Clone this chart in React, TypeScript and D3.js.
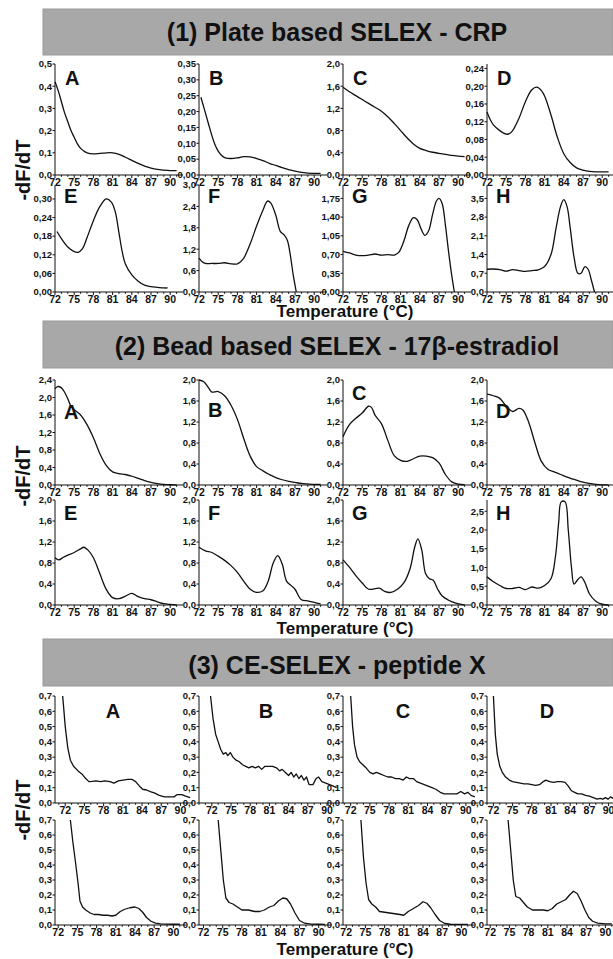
import * as d3 from "d3";

const FONT = "'Liberation Sans', Arial, sans-serif";

const letters = ["A", "B", "C", "D", "E", "F", "G", "H"];
const titles = [
  "(1) Plate based SELEX - CRP",
  "(2) Bead based SELEX - 17β-estradiol",
  "(3) CE-SELEX - peptide X",
];
const yTitle = "-dF/dT";
const xTitle = "Temperature (°C)";
const xTickValues = [72, 75, 78, 81, 84, 87, 90];

// (1) plate based SELEX - CRP : [temperature, -dF/dT]
const crpA = [[72,0.42],[72.5,0.38],[73,0.33],[73.5,0.28],[74,0.24],[74.5,0.2],[75,0.17],[75.5,0.14],[76,0.12],[76.5,0.108],[77,0.1],[78,0.095],[79,0.097],[80,0.1],[81,0.1],[82,0.093],[83,0.08],[84,0.066],[85,0.052],[86,0.04],[87,0.031],[88,0.025],[89,0.022],[90,0.02],[91,0.02]];
const crpB = [[72.3,0.245],[72.8,0.21],[73.5,0.16],[74,0.125],[74.5,0.095],[75,0.075],[75.5,0.062],[76,0.055],[77,0.052],[78,0.054],[79,0.058],[80,0.057],[81,0.052],[82,0.045],[83,0.037],[84,0.03],[85,0.023],[86,0.017],[87,0.012],[88,0.008],[89,0.006],[90,0.005],[91,0.005]];
const crpC = [[72,1.58],[73,1.5],[74,1.43],[75,1.36],[76,1.29],[77,1.22],[78,1.15],[79,1.05],[80,0.93],[81,0.8],[82,0.67],[83,0.56],[84,0.48],[85,0.44],[86,0.41],[87,0.39],[88,0.37],[89,0.355],[90,0.34],[91,0.33]];
const crpD = [[72,0.142],[72.5,0.125],[73,0.113],[74,0.1],[75,0.092],[75.5,0.093],[76,0.1],[77,0.128],[78,0.165],[79,0.192],[79.8,0.198],[80.5,0.19],[81,0.178],[82,0.135],[83,0.085],[84,0.048],[85,0.028],[86,0.016],[87,0.011],[88,0.008],[89,0.007],[90,0.007],[91,0.007]];
const crpE = [[72.3,0.195],[73,0.172],[74,0.145],[75,0.13],[75.6,0.128],[76.3,0.14],[77,0.175],[78,0.23],[79,0.275],[80,0.3],[80.8,0.29],[81.4,0.26],[82,0.19],[82.5,0.13],[83,0.09],[84,0.055],[85,0.035],[86,0.022],[87,0.017],[88,0.015],[89,0.013],[89.6,0.013]];
const crpF = [[72,0.95],[72.5,0.85],[73,0.8],[74,0.8],[75,0.8],[76,0.82],[77,0.79],[78,0.79],[78.5,0.85],[79,0.95],[80,1.35],[81,1.85],[82,2.3],[82.7,2.55],[83.2,2.5],[84,2.15],[84.7,1.7],[85.3,1.6],[85.8,1.45],[86.3,1.0],[86.7,0.5],[87.2,0.0]];
const crpG = [[72,0.76],[73,0.73],[74,0.69],[75,0.68],[76,0.69],[77,0.71],[78,0.69],[79,0.7],[80,0.69],[80.7,0.74],[81.5,0.95],[82.3,1.25],[83,1.39],[83.6,1.35],[84.2,1.18],[84.8,1.06],[85.4,1.15],[86,1.45],[86.6,1.7],[87,1.75],[87.5,1.65],[88,1.25],[88.5,0.75],[89,0.3],[89.4,0.0]];
const crpH = [[72,0.85],[73,0.86],[74,0.84],[75,0.78],[76,0.84],[77,0.8],[78,0.77],[79,0.8],[80,0.83],[81,0.95],[82,1.4],[82.8,2.4],[83.5,3.2],[84,3.45],[84.5,3.2],[85,2.4],[85.6,1.3],[86.2,0.7],[86.7,0.7],[87.3,0.95],[87.8,0.85],[88.3,0.45],[88.8,0.0]];

// (2) bead based SELEX - 17β-estradiol
const beadA = [[72,2.2],[72.4,2.25],[73,2.22],[73.5,2.12],[74,1.97],[74.5,1.8],[75,1.72],[76,1.6],[77,1.38],[78,1.08],[79,0.72],[80,0.45],[81,0.3],[82,0.26],[83,0.24],[84,0.2],[85,0.15],[86,0.1],[87,0.06],[88,0.03],[89,0.012],[90,0.006],[91,0.005]];
const beadB = [[72,2.0],[72.7,1.97],[73.5,1.85],[74,1.77],[75,1.78],[76,1.7],[77,1.52],[78,1.25],[79,0.88],[80,0.55],[81,0.35],[82,0.27],[83,0.2],[84,0.14],[85,0.1],[86,0.07],[87,0.05],[88,0.03],[89,0.02],[90,0.012],[91,0.01]];
const beadC = [[72,0.92],[73,1.15],[74,1.27],[75,1.37],[76,1.5],[76.5,1.47],[77,1.33],[78,1.17],[79,0.85],[80,0.56],[81,0.47],[82,0.45],[83,0.5],[84,0.55],[85,0.55],[86,0.52],[87,0.42],[88,0.2],[89,0.06],[90,0.015],[91,0.005]];
const beadD = [[72,1.73],[73,1.7],[74,1.65],[75,1.5],[76,1.4],[77,1.46],[77.6,1.43],[78.5,1.2],[79.5,0.8],[80.5,0.45],[81.5,0.3],[82.5,0.25],[83.5,0.2],[84.5,0.15],[85.5,0.11],[86.5,0.07],[87.5,0.04],[88.5,0.02],[89.5,0.008],[91,0.004]];
const beadE = [[72,0.9],[72.6,0.86],[73.3,0.91],[74,0.95],[75,1.0],[76,1.07],[76.5,1.1],[77.2,1.04],[78,0.9],[79,0.6],[80,0.3],[81,0.14],[82,0.12],[83,0.17],[84,0.22],[85,0.16],[86,0.12],[87,0.1],[88,0.06],[89,0.025],[90,0.01],[91,0.0]];
const beadF = [[72,1.1],[73,1.03],[74,1.0],[75,0.93],[76,0.85],[77,0.75],[78,0.62],[79,0.45],[80,0.3],[81,0.24],[82,0.27],[82.8,0.45],[83.6,0.8],[84.3,0.94],[85,0.78],[85.7,0.45],[86.5,0.36],[87,0.3],[88,0.1],[89,0.08],[90,0.05],[91,0.02]];
const beadG = [[72,0.86],[73,0.72],[74,0.56],[75,0.42],[76,0.3],[77,0.31],[77.7,0.32],[78.5,0.26],[79.5,0.24],[80.5,0.3],[81.5,0.42],[82.5,0.7],[83.2,1.1],[83.7,1.26],[84.3,1.05],[84.9,0.6],[85.5,0.5],[86.1,0.47],[86.8,0.3],[87.5,0.17],[88.5,0.09],[89.5,0.04],[90.5,0.01],[91,0.0]];
const beadH = [[72,0.75],[73,0.62],[74,0.52],[75,0.44],[76,0.44],[77,0.47],[78,0.41],[79,0.48],[80,0.45],[81,0.52],[82,0.7],[82.7,1.3],[83.2,2.2],[83.6,2.75],[84.2,2.75],[84.7,2.0],[85.2,1.0],[85.6,0.56],[86.2,0.68],[86.7,0.75],[87.3,0.6],[88,0.3],[89,0.1],[90,0.02],[91,0.0]];

// (3) CE-SELEX - peptide X
const ceA = [[71.6,0.7],[72,0.5],[72.4,0.36],[72.8,0.28],[73.3,0.24],[74,0.21],[74.6,0.19],[75.2,0.16],[75.7,0.14],[76.2,0.142],[76.8,0.145],[77.5,0.14],[78.2,0.145],[79,0.14],[79.6,0.13],[80.3,0.145],[81,0.15],[81.8,0.155],[82.4,0.155],[83,0.14],[83.6,0.11],[84.1,0.09],[84.7,0.085],[85.3,0.075],[86,0.065],[86.7,0.05],[87.5,0.04],[88.3,0.04],[89,0.04],[89.5,0.055],[90.2,0.055],[90.8,0.045],[91.5,0.035]];
const ceB = [[71.8,0.7],[72.2,0.55],[72.6,0.45],[73,0.4],[73.4,0.35],[73.8,0.32],[74.2,0.33],[74.5,0.31],[74.9,0.33],[75.3,0.3],[75.8,0.28],[76.3,0.27],[76.8,0.25],[77.3,0.24],[77.8,0.23],[78.3,0.24],[78.8,0.23],[79.3,0.24],[79.8,0.22],[80.3,0.24],[80.9,0.24],[81.5,0.24],[82.1,0.23],[82.6,0.21],[83,0.22],[83.5,0.2],[84,0.18],[84.4,0.2],[84.8,0.17],[85.2,0.19],[85.6,0.16],[86,0.18],[86.4,0.15],[86.8,0.17],[87.2,0.12],[87.8,0.12],[88.3,0.16],[88.7,0.17],[89.2,0.14],[89.8,0.13],[90.4,0.12],[91,0.11],[91.5,0.1]];
const ceC = [[72,0.7],[72.3,0.5],[72.6,0.38],[73,0.3],[73.4,0.27],[73.9,0.25],[74.4,0.23],[75,0.2],[75.5,0.19],[76,0.2],[76.6,0.19],[77.2,0.18],[77.8,0.17],[78.4,0.17],[79,0.16],[79.6,0.16],[80.2,0.15],[80.7,0.17],[81.2,0.16],[81.8,0.16],[82.3,0.14],[82.9,0.13],[83.5,0.12],[84.1,0.11],[84.7,0.1],[85.3,0.09],[86,0.07],[86.6,0.06],[87.3,0.06],[88,0.06],[88.6,0.06],[89.2,0.075],[89.8,0.06],[90.3,0.07],[90.8,0.05],[91.4,0.04]];
const ceD = [[72,0.7],[72.3,0.45],[72.6,0.32],[73,0.24],[73.4,0.2],[73.9,0.17],[74.5,0.15],[75,0.14],[75.6,0.135],[76.2,0.13],[76.8,0.125],[77.4,0.125],[78,0.12],[78.6,0.115],[79.2,0.12],[79.8,0.14],[80.2,0.15],[80.8,0.14],[81.4,0.135],[82,0.14],[82.6,0.14],[83.2,0.135],[83.7,0.11],[84.2,0.08],[84.7,0.07],[85.2,0.06],[85.8,0.06],[86.4,0.05],[87,0.045],[87.6,0.035],[88.2,0.025],[88.7,0.03],[89.1,0.025],[89.5,0.035],[89.9,0.025],[90.3,0.04],[90.7,0.03],[91.2,0.04]];
const ceE = [[73.9,0.7],[74.3,0.55],[74.7,0.42],[75.1,0.28],[75.4,0.16],[75.8,0.12],[76.3,0.1],[77,0.08],[77.6,0.07],[78.3,0.07],[79,0.065],[79.7,0.065],[80.4,0.06],[81,0.065],[81.7,0.09],[82.4,0.105],[83.2,0.115],[84,0.12],[84.6,0.11],[85.2,0.085],[85.8,0.05],[86.5,0.025],[87.2,0.012],[88,0.008],[89,0.006],[90,0.005],[91,0.005]];
const ceF = [[74.3,0.7],[74.7,0.5],[75.1,0.3],[75.5,0.18],[76,0.15],[76.6,0.14],[77.3,0.12],[78,0.1],[79,0.1],[80,0.09],[80.8,0.09],[81.5,0.1],[82.3,0.12],[83,0.13],[83.7,0.16],[84.4,0.18],[85,0.175],[85.6,0.14],[86.3,0.08],[87,0.03],[87.8,0.012],[88.8,0.006],[90,0.005],[91,0.004]];
const ceG = [[74.3,0.7],[74.7,0.45],[75.1,0.28],[75.5,0.17],[76,0.14],[76.6,0.12],[77.2,0.09],[78,0.085],[78.8,0.08],[79.6,0.075],[80.4,0.07],[81,0.065],[81.7,0.09],[82.5,0.11],[83.3,0.13],[84,0.155],[84.6,0.145],[85.2,0.115],[85.9,0.07],[86.6,0.03],[87.4,0.01],[88.3,0.005],[89.5,0.004],[91,0.004]];
const ceH = [[74.8,0.7],[75.2,0.5],[75.6,0.3],[76,0.19],[76.6,0.18],[77.2,0.15],[77.8,0.12],[78.6,0.1],[79.5,0.1],[80.3,0.1],[81,0.095],[81.7,0.11],[82.4,0.14],[83.1,0.155],[83.8,0.17],[84.4,0.2],[85,0.225],[85.6,0.21],[86.2,0.16],[86.8,0.1],[87.4,0.05],[88,0.025],[88.8,0.012],[90,0.008],[91,0.008]];

// y axes per panel: [axis top value, tick step, last labelled tick]
const crpAxes = [[0.5,0.1,0.5],[0.35,0.05,0.35],[2.0,0.4,2.0],[0.25,0.04,0.24],[0.345,0.06,0.3],[3.0,0.6,3.0],[2.0,0.35,1.75],[4.0,0.7,3.5]];
const beadAxes = [[2.4,0.4,2.4],[2.0,0.4,2.0],[2.0,0.4,2.0],[2.0,0.4,2.0],[2.0,0.4,2.0],[2.0,0.4,2.0],[2.0,0.4,2.0],[2.8,0.5,2.5]];
const ceAxes = [[0.7,0.1,0.7],[0.7,0.1,0.7],[0.7,0.1,0.7],[0.7,0.1,0.7],[0.7,0.1,0.7],[0.7,0.1,0.7],[0.7,0.1,0.7],[0.7,0.1,0.7]];

// temperature where each x axis starts
const crpXStart = [72, 72, 72, 72, 72, 72, 72, 72];
const beadXStart = [72, 72, 72, 72, 72, 72, 72, 72];
const ceXStart = [70.4, 70, 70.8, 71, 71.5, 71.3, 71.5, 71.5];

// layout
const COL_X = [55, 199, 343, 487];
const PX_PER_DEG = 6.4;
const X_END = 92;
const W = 613;
const H = 959;

const sections = [
  {
    title: titles[0], bannerY: 9, bannerH: 46, titleY: 41,
    rows: [[64, 175], [185, 292]], tempY: 317, yTitleY: 170,
    curves: [crpA, crpB, crpC, crpD, crpE, crpF, crpG, crpH],
    axes: crpAxes, xStart: crpXStart,
    letterPos: [[10,21],[10,21],[10,21],[10,21],[9,18],[9,18],[9,18],[9,18]],
  },
  {
    title: titles[1], bannerY: 321, bannerH: 47, titleY: 355,
    rows: [[380, 485], [500, 605]], tempY: 634, yTitleY: 476,
    curves: [beadA, beadB, beadC, beadD, beadE, beadF, beadG, beadH],
    axes: beadAxes, xStart: beadXStart,
    letterPos: [[9,39],[9,37],[9,20],[9,38],[9,20],[9,20],[9,20],[9,20]],
  },
  {
    title: titles[2], bannerY: 639, bannerH: 47, titleY: 674,
    rows: [[696, 803], [820, 925]], tempY: 955, yTitleY: 810,
    curves: [ceA, ceB, ceC, ceD, ceE, ceF, ceG, ceH],
    axes: ceAxes, xStart: ceXStart,
    letterPos: [[58,22],[67,22],[60,22],[60,22],null,null,null,null],
  },
];

const fmt = (v: number, step: number) => {
  const dec = Math.abs(step * 10 - Math.round(step * 10)) > 1e-6 ? 2 : 1;
  return v.toFixed(dec).replace(".", ",");
};

function Panel({ left, top, base, xStart, axis, data, noisy, letter, letterPos }: any) {
  const [yTop, step, lastTick] = axis;
  const x = d3.scaleLinear().domain([xStart, X_END]).range([left, left + (X_END - xStart) * PX_PER_DEG]);
  const y = d3.scaleLinear().domain([0, yTop]).range([base, top]);
  const line = d3
    .line<number[]>()
    .x((d) => x(d[0]))
    .y((d) => y(Math.max(0, d[1])))
    .curve(noisy ? d3.curveLinear : d3.curveCatmullRom.alpha(0.5));
  const yTicks = d3.range(0, lastTick + step / 2, step);
  const minor = d3.range(Math.ceil(xStart), X_END, 1);
  return (
    <g>
      <path d={line(data) ?? ""} fill="none" stroke="#111" strokeWidth={1.3} strokeLinejoin="round" />
      <line x1={left} x2={left} y1={top} y2={base} stroke="#111" strokeWidth={1} />
      <line x1={left} x2={x(X_END)} y1={base} y2={base} stroke="#111" strokeWidth={1} />
      {yTicks.map((v) => (
        <g key={v}>
          <line x1={left - 2.5} x2={left} y1={y(v)} y2={y(v)} stroke="#111" />
          <text x={left - 3} y={y(v)} dy="0.35em" textAnchor="end" fontSize={9.5} fontWeight="bold" fontFamily={FONT} fill="#111">
            {fmt(v, step)}
          </text>
        </g>
      ))}
      {minor.map((v) => (
        <line key={v} x1={x(v)} x2={x(v)} y1={base} y2={base + (xTickValues.includes(v) ? 3 : 1.8)} stroke="#111" />
      ))}
      {xTickValues.map((v) => (
        <text key={v} x={x(v)} y={base + 10.5} textAnchor="middle" fontSize={10.5} fontWeight="bold" fontFamily={FONT} fill="#111">
          {v}
        </text>
      ))}
      {letterPos && (
        <text
          x={left + letterPos[0]}
          y={top + letterPos[1]}
          textAnchor={noisy ? "middle" : "start"}
          fontSize={20}
          fontWeight="bold"
          fontFamily={FONT}
          fill="#111"
        >
          {letter}
        </text>
      )}
    </g>
  );
}

export default function App() {
  return (
    <div style={{ position: "absolute", left: 0, top: 0 }}>
      <svg width={W} height={H} viewBox={`0 0 ${W} ${H}`} style={{ display: "block", background: "#fff" }}>
        {sections.map((s, si) => (
          <g key={si}>
            <rect x={43} y={s.bannerY} width={W - 43} height={s.bannerH} fill="#a8a8a8" stroke="#999" />
            <text x={337} y={s.titleY} textAnchor="middle" fontSize={25} fontWeight="bold" fontFamily={FONT} fill="#111">
              {s.title}
            </text>
            {s.curves.map((c, i) => {
              const r = Math.floor(i / 4);
              const col = i % 4;
              return (
                <Panel
                  key={i}
                  left={COL_X[col]}
                  top={s.rows[r][0]}
                  base={s.rows[r][1]}
                  xStart={s.xStart[i]}
                  axis={s.axes[i]}
                  data={c}
                  noisy={si === 2}
                  letter={letters[i]}
                  letterPos={s.letterPos[i]}
                />
              );
            })}
            <text x={345} y={s.tempY} textAnchor="middle" fontSize={17} fontWeight="bold" fontFamily={FONT} fill="#111">
              {xTitle}
            </text>
            <text
              transform={`translate(30,${s.yTitleY}) rotate(-90)`}
              textAnchor="middle"
              fontSize={20}
              fontWeight="bold"
              fontFamily={FONT}
              fill="#111"
            >
              {yTitle}
            </text>
          </g>
        ))}
      </svg>
    </div>
  );
}
